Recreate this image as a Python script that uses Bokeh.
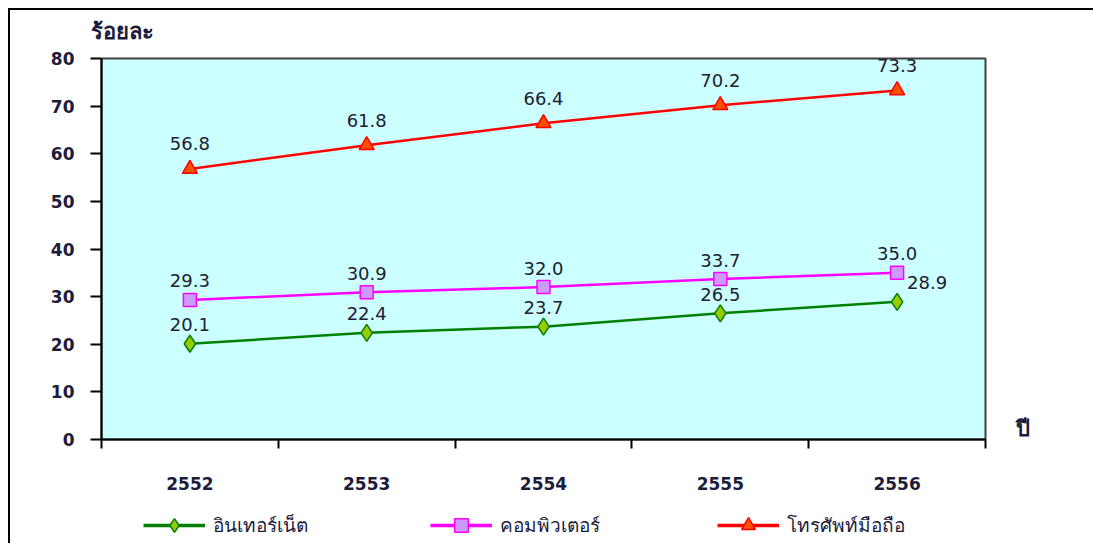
from bokeh.plotting import figure
from bokeh.layouts import column
from bokeh.models import (LinearAxis, FixedTicker, Legend, LegendItem, Title,
                          ColumnDataSource, Range1d, InlineStyleSheet)
from bokeh.embed import file_html
from bokeh.resources import INLINE

years = ["2552", "2553", "2554", "2555", "2556"]
internet = [20.1, 22.4, 23.7, 26.5, 28.9]
computer = [29.3, 30.9, 32.0, 33.7, 35.0]
mobile = [56.8, 61.8, 66.4, 70.2, 73.3]
series_names = ["อินเทอร์เน็ต", "คอมพิวเตอร์", "โทรศัพท์มือถือ"]
y_ticks = [0, 10, 20, 30, 40, 50, 60, 70, 80]
y_title = "ร้อยละ"
x_title = "ปี"

FONT = "Verdana, 'DejaVu Sans', Tahoma, sans-serif"
TXT = "#1c1c3c"
W = 1093
H_MAIN = 500
H_LEG = 43

xs = [i + 0.5 for i in range(len(years))]

def frame_css(top):
    css = (":host::after{content:'';position:absolute;left:8px;top:%dpx;right:0;bottom:0;"
           "border-left:2.5px solid #000;%spointer-events:none;}"
           % (top, "border-top:2.5px solid #000;" if top else ""))
    return [InlineStyleSheet(css=css)]

p = figure(width=W, height=H_MAIN, output_backend="svg", toolbar_location=None,
           x_range=Range1d(0, len(years)), y_range=Range1d(0, 80),
           min_border_left=101, min_border_right=108, min_border_top=58,
           min_border_bottom=61, x_axis_type=None, y_axis_type=None)
p.background_fill_color = "#CCFFFF"
p.border_fill_color = "white"
p.outline_line_color = "#404040"
p.outline_line_width = 2
p.stylesheets = frame_css(8)

# y axis
yax = LinearAxis(ticker=FixedTicker(ticks=y_ticks))
yax.axis_line_color = "black"
yax.axis_line_width = 2
yax.major_tick_line_color = "black"
yax.major_tick_line_width = 2
yax.major_tick_out = 11
yax.major_tick_in = 0
yax.minor_tick_line_color = None
yax.major_label_text_font = FONT
yax.major_label_text_font_size = "17px"
yax.major_label_text_font_style = "bold"
yax.major_label_text_color = TXT
yax.major_label_standoff = 16
p.add_layout(yax, "left")

# right-side axis carrying the x title
rax = LinearAxis(ticker=FixedTicker(ticks=[2.3]),
                 major_label_overrides={2.3: x_title})
rax.axis_line_color = None
rax.major_tick_line_color = None
rax.minor_tick_line_color = None
rax.major_label_text_font = FONT
rax.major_label_text_font_size = "22px"
rax.major_label_text_font_style = "bold"
rax.major_label_text_color = TXT
rax.major_label_standoff = 24
p.add_layout(rax, "right")

# x axis with boundary ticks (no labels)
bounds = list(range(len(years) + 1))
xax = LinearAxis(ticker=FixedTicker(ticks=bounds),
                 major_label_overrides={b: "" for b in bounds})
xax.axis_line_color = "black"
xax.axis_line_width = 2
xax.major_tick_line_color = "black"
xax.major_tick_line_width = 2
xax.major_tick_out = 9
xax.major_tick_in = 0
xax.minor_tick_line_color = None
xax.major_label_text_font_size = "1px"
xax.major_label_standoff = 0
p.add_layout(xax, "below")

# x labels axis
xlab = LinearAxis(ticker=FixedTicker(ticks=xs),
                  major_label_overrides={x: y for x, y in zip(xs, years)})
xlab.axis_line_color = None
xlab.major_tick_line_color = None
xlab.minor_tick_line_color = None
xlab.major_label_text_font = FONT
xlab.major_label_text_font_size = "17px"
xlab.major_label_text_font_style = "bold"
xlab.major_label_text_color = TXT
xlab.major_label_standoff = 22
p.add_layout(xlab, "below")

# grid
p.xgrid.grid_line_color = None
p.ygrid.ticker = FixedTicker(ticks=y_ticks[1:-1])
p.ygrid.grid_line_color = "#222222"
p.ygrid.grid_line_dash = "6 5"
p.ygrid.grid_line_width = 1.3

title = Title(text=y_title, align="left", offset=-11, text_font=FONT,
              text_font_size="22px", text_font_style="bold", text_color=TXT,
              standoff=30)
p.add_layout(title, "above")

# legend strip
p2 = figure(width=W, height=H_LEG, output_backend="svg", toolbar_location=None,
            x_range=Range1d(0, len(years)), y_range=Range1d(-2, -1),
            min_border_left=0, min_border_right=0, min_border_top=0,
            min_border_bottom=0, x_axis_type=None, y_axis_type=None)
p2.outline_line_color = None
p2.background_fill_color = "white"
p2.border_fill_color = "white"
p2.xgrid.grid_line_color = None
p2.ygrid.grid_line_color = None
p2.stylesheets = frame_css(0)

styles = [
    (internet, "#008000", "diamond", "#99CC00", 17),
    (computer, "#FF00FF", "square", "#CC99FF", 13),
    (mobile, "#FF0000", "triangle", "#FF5000", 15),
]
items = []
for (vals, lc, mk, fc, sz), name in zip(styles, series_names):
    src = ColumnDataSource(dict(x=xs, y=vals, t=[f"{v:.1f}" for v in vals]))
    p.line("x", "y", source=src, line_color=lc, line_width=2.5)
    p.scatter("x", "y", source=src, marker=mk, size=sz, fill_color=fc,
              line_color=lc, line_width=1.5)
    dy = -25 if mk == "triangle" else -19
    xo = [0] * len(vals)
    if mk == "diamond":
        xo[-1] = 30
    src.data["xo"] = xo
    p.text("x", "y", text="t", source=src, x_offset="xo", y_offset=dy,
           text_align="center", text_baseline="middle", text_font_size="18px",
           text_font={"value": FONT}, text_color="#202030")
    # legend proxies: same series, out of the strip's view
    ln2 = p2.line("x", "y", source=src, line_color=lc, line_width=3.5)
    sc2 = p2.scatter("x", "y", source=src, marker=mk, size=sz, fill_color=fc,
                     line_color=lc, line_width=1.5)
    items.append(LegendItem(label=name, renderers=[ln2, sc2]))

legend = Legend(items=items, orientation="horizontal", location=(42, 1),
                glyph_width=62, glyph_height=34, label_standoff=8, label_width=217,
                spacing=0, padding=0, margin=0, border_line_color=None,
                background_fill_alpha=0, label_text_font=FONT,
                label_text_font_size="19px", label_text_color=TXT)
p2.add_layout(legend, "center")

layout = column(p, p2, spacing=0)
open("out.html", "w").write(file_html(layout, INLINE))
